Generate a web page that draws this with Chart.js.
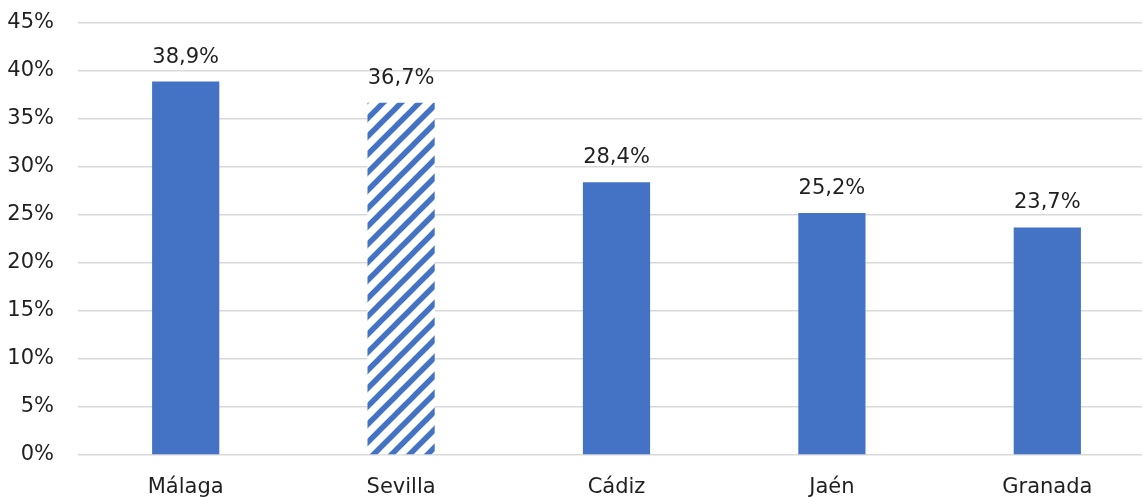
<!DOCTYPE html>
<html lang="es">
<head>
<meta charset="UTF-8">
<title>Provincias</title>
<script src="https://cdn.jsdelivr.net/npm/chart.js"></script>
<style>
    html, body { margin: 0; padding: 0; background: #fff; overflow: hidden; }
    #wrap { width: 1155px; height: 497px; }
</style>
</head>
<body>
<div id="wrap"><canvas id="barChart" width="1155" height="497"></canvas></div>
<script>
// Data
const provincias = ['Málaga', 'Sevilla', 'Cádiz', 'Jaén', 'Granada'];
const porcentajes = [38.9, 36.7, 28.4, 25.2, 23.7];
const hatchedIndex = 1; // Sevilla is drawn with stripes
const yTicks = [0, 5, 10, 15, 20, 25, 30, 35, 40, 45];

const barBlue = '#4472C4';
const textColor = '#1f1f1f';
const fontFamily = '"DejaVu Sans", sans-serif';

// Striped fill for the Sevilla bar (wide upward diagonal)
function makeHatch() {
    const s = 18;
    const c = document.createElement('canvas');
    c.width = s;
    c.height = s;
    const g = c.getContext('2d');
    g.fillStyle = '#ffffff';
    g.fillRect(0, 0, s, s);
    g.strokeStyle = barBlue;
    g.lineWidth = 5.5;
    g.beginPath();
    g.moveTo(-s, s); g.lineTo(s, -s);
    g.moveTo(0, s); g.lineTo(s, 0);
    g.moveTo(0, 2 * s); g.lineTo(2 * s, 0);
    g.stroke();
    return ctx.createPattern(c, 'repeat');
}

// Value labels above each bar
const valueLabels = {
    id: 'valueLabels',
    afterDatasetsDraw(chart) {
        const c = chart.ctx;
        const meta = chart.getDatasetMeta(0);
        c.save();
        c.font = '21px ' + fontFamily;
        c.fillStyle = textColor;
        c.textAlign = 'center';
        c.textBaseline = 'alphabetic';
        meta.data.forEach((bar, i) => {
            const txt = porcentajes[i].toFixed(1).replace('.', ',') + '%';
            c.fillText(txt, bar.x, bar.y - 19);
        });
        c.restore();
    }
};

const ctx = document.getElementById('barChart').getContext('2d');
const hatch = makeHatch();
const barColors = porcentajes.map((v, i) => i === hatchedIndex ? hatch : barBlue);

new Chart(ctx, {
    type: 'bar',
    data: {
        labels: provincias,
        datasets: [{
            data: porcentajes,
            backgroundColor: barColors,
            borderWidth: 0,
            barPercentage: 0.312,
            categoryPercentage: 1
        }]
    },
    options: {
        responsive: false,
        animation: false,
        layout: { padding: { top: 23, left: 0, right: 0, bottom: 0 } },
        plugins: {
            legend: { display: false },
            tooltip: { enabled: false }
        },
        scales: {
            x: {
                grid: { display: false, drawTicks: false },
                border: { display: false },
                ticks: {
                    color: textColor,
                    font: { family: fontFamily, size: 21 },
                    padding: 20,
                    maxRotation: 0
                },
                afterFit(scale) { scale.height = 42; }
            },
            y: {
                min: 0,
                max: 45,
                afterBuildTicks(scale) {
                    scale.ticks = yTicks.map(v => ({ value: v }));
                },
                grid: { color: '#d9d9d9', lineWidth: 1.5, drawTicks: false },
                border: { display: false },
                ticks: {
                    color: textColor,
                    font: { family: fontFamily, size: 21 },
                    padding: 24,
                    callback: v => v + '%'
                },
                afterFit(scale) {
                    // tick padding would otherwise push the plot area down
                    scale.width = 78;
                    scale.paddingTop = 0;
                    scale.paddingBottom = 0;
                }
            }
        }
    },
    plugins: [valueLabels]
});
</script>
</body>
</html>
